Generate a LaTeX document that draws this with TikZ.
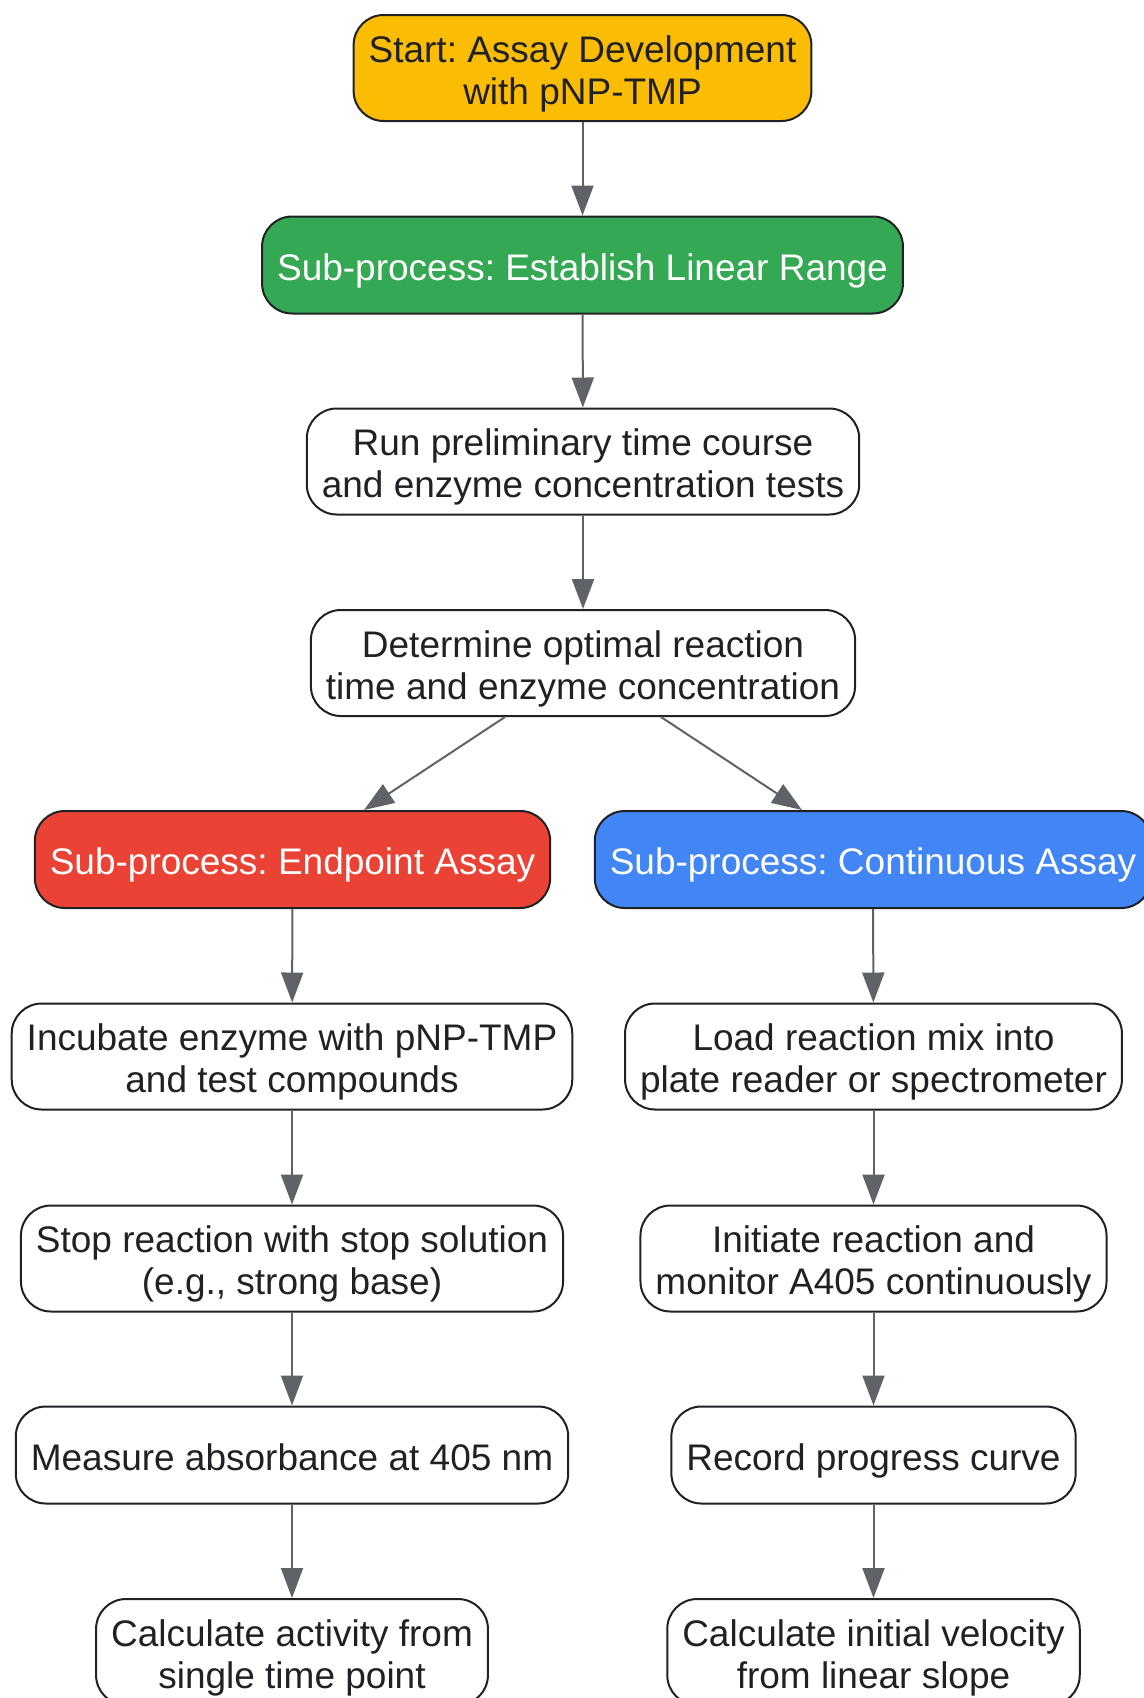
\documentclass[tikz,border=0pt]{standalone}
\usepackage{fontspec}
\setmainfont{Liberation Sans}
\usepackage{tikz}
\usetikzlibrary{arrows.meta,calc}
\definecolor{startyel}{HTML}{FBBC04}
\definecolor{subgreen}{HTML}{34A853}
\definecolor{subred}{HTML}{EA4335}
\definecolor{subblue}{HTML}{4285F4}
\definecolor{edgegray}{HTML}{5F6368}
\definecolor{inkdark}{HTML}{202124}
\frenchspacing

\begin{document}
\begin{tikzpicture}[x=0.5pt,y=-0.5pt,join=round,
        box/.style={draw=inkdark,line width=1pt,rounded corners=15pt,align=center,
                text=inkdark,inner xsep=7.5pt,inner ysep=2pt,minimum height=48.5pt,
                text height=19.3pt,text depth=3.9pt,
                font=\fontsize{18.5}{21}\selectfont},
        twoline/.style={minimum height=53pt,text height=40.3pt},
        flow/.style={draw=edgegray,line width=1pt,-{Triangle[length=15pt,width=11pt]}}] %Assay flowchart
        \useasboundingbox (0,0) rectangle (1144,1698);
        \node[box,twoline,fill=startyel] (start) at (582.5,68) {Start: Assay Development\\with pNP-TMP};
        \node[box,fill=subgreen,text=white] (linear) at (582.5,265) {Sub-process: Establish Linear Range};
        \node[box,twoline] (prelim) at (583,461.5) {Run preliminary time course\\and enzyme concentration tests};
        \node[box,twoline] (optimal) at (583,663) {Determine optimal reaction\\time and enzyme concentration};
        \node[box,fill=subred,text=white] (endpt) at (292.5,859.5) {Sub-process: Endpoint Assay};
        \node[box,fill=subblue,text=white] (contin) at (873,859.5) {Sub-process: Continuous Assay};
        \node[box,twoline] (incub) at (292,1056.5) {Incubate enzyme with pNP-TMP\\and test compounds};
        \node[box,twoline] (load) at (873.5,1056.5) {Load reaction mix into\\plate reader or spectrometer};
        \node[box,twoline] (stopr) at (292,1258.5) {Stop reaction with stop solution\\(e.g., strong base)};
        \node[box,twoline] (initr) at (873.5,1258.5) {Initiate reaction and\\monitor A405 continuously};
        \node[box] (measure) at (292,1455) {Measure absorbance at 405 nm};
        \node[box] (record) at (873.5,1455) {Record progress curve};
        \node[box,twoline] (calcact) at (292,1652) {Calculate activity from\\single time point};
        \node[box,twoline] (calcvel) at (873.5,1652) {Calculate initial velocity\\from linear slope};
        \draw[flow] (start) -- (linear);
        \draw[flow] (linear) -- (prelim);
        \draw[flow] (prelim) -- (optimal);
        \draw[flow] ($(optimal.south)+(-78,0)$) -- ($(endpt.north)+(71.5,0)$);
        \draw[flow] ($(optimal.south)+(78,0)$) -- ($(contin.north)+(-71,0)$);
        \draw[flow] (endpt) -- (incub);
        \draw[flow] (incub) -- (stopr);
        \draw[flow] (stopr) -- (measure);
        \draw[flow] (measure) -- (calcact);
        \draw[flow] (contin) -- (load);
        \draw[flow] (load) -- (initr);
        \draw[flow] (initr) -- (record);
        \draw[flow] (record) -- (calcvel);
    \end{tikzpicture}
\end{document}
